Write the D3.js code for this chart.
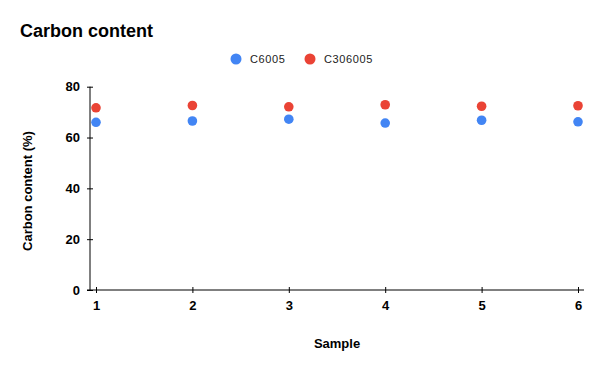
<!DOCTYPE html>
<html>
<head>
<meta charset="utf-8">
<script src="https://cdn.jsdelivr.net/npm/d3@7"></script>
<style>
  body { margin: 0; background: #fff; }
  text { font-family: "Liberation Sans", Arial, sans-serif; }
</style>
</head>
<body>
<div id="chart"></div>
<script>
const samples = [1, 2, 3, 4, 5, 6];
const c6005 = [66.0, 66.5, 67.2, 65.7, 66.8, 66.2];
const c306005 = [71.7, 72.6, 72.1, 72.9, 72.3, 72.5];
const seriesNames = ["C6005", "C306005"];
const yTicks = [0, 20, 40, 60, 80];

const colors = ["#4285f4", "#ea4335"];
const W = 604, H = 371;

const svg = d3.select("#chart").append("svg")
    .attr("width", W)
    .attr("height", H);

const x = d3.scaleLinear().domain([1, 6]).range([96, 578]);
const y = d3.scaleLinear().domain([0, 80]).range([290, 86.7]);

// title
svg.append("text")
    .attr("x", 20).attr("y", 36.5)
    .style("font-size", "18px").style("font-weight", "bold")
    .attr("fill", "#000")
    .text("Carbon content");

// legend
const legend = svg.append("g");
const legendPos = [236, 310];
seriesNames.forEach((name, i) => {
    legend.append("circle")
        .attr("cx", legendPos[i]).attr("cy", 59).attr("r", 5.5)
        .attr("fill", colors[i]);
    legend.append("text")
        .attr("x", legendPos[i] + 14).attr("y", 63)
        .style("font-size", "11px").style("letter-spacing", "0.6px")
        .attr("fill", "#222")
        .text(name);
});

// y axis
const yAxis = svg.append("g")
    .attr("transform", "translate(90,0)")
    .call(d3.axisLeft(y).tickValues(yTicks).tickSize(3).tickPadding(6));
yAxis.select(".domain").remove();
yAxis.selectAll(".tick line").attr("x2", 3).attr("x1", -3).attr("stroke", "#000");
yAxis.selectAll("text")
    .style("font-size", "13px").style("font-weight", "bold")
    .attr("fill", "#000").attr("x", -10);
svg.append("line")
    .attr("x1", 90).attr("x2", 90)
    .attr("y1", y(80)).attr("y2", y(0))
    .attr("stroke", "#000");

// x axis
const xAxis = svg.append("g")
    .attr("transform", `translate(0,${y(0)})`)
    .call(d3.axisBottom(x).tickValues(samples).tickFormat(d3.format("d")).tickSize(3).tickPadding(8));
xAxis.select(".domain").remove();
xAxis.selectAll(".tick line").attr("y1", -3).attr("y2", 3).attr("stroke", "#000");
xAxis.selectAll("text")
    .style("font-size", "13px").style("font-weight", "bold")
    .attr("fill", "#000");
svg.append("line")
    .attr("x1", 87).attr("x2", 584)
    .attr("y1", y(0)).attr("y2", y(0))
    .attr("stroke", "#000");

// axis titles
svg.append("text")
    .attr("x", (x(1) + x(6)) / 2).attr("y", 348)
    .attr("text-anchor", "middle")
    .style("font-size", "13px").style("font-weight", "bold")
    .text("Sample");

svg.append("text")
    .attr("transform", `translate(32,191) rotate(-90)`)
    .attr("text-anchor", "middle")
    .style("font-size", "13px").style("font-weight", "bold")
    .text("Carbon content (%)");

// points
[c6005, c306005].forEach((vals, i) => {
    svg.append("g").selectAll("circle")
        .data(vals)
        .join("circle")
        .attr("cx", (d, j) => x(samples[j]))
        .attr("cy", d => y(d))
        .attr("r", 4.8)
        .attr("fill", colors[i]);
});
</script>
</body>
</html>
